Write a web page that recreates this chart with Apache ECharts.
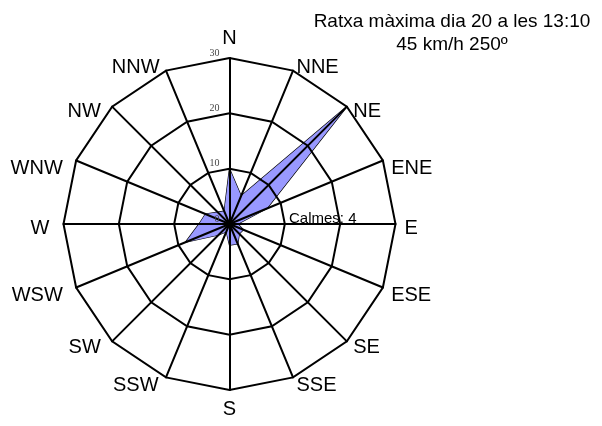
<!DOCTYPE html>
<html>
<head>
<meta charset="utf-8">
<script src="https://cdn.jsdelivr.net/npm/echarts@6/dist/echarts.min.js"></script>
<style>html,body{margin:0;padding:0;background:#fff}#c{width:602px;height:426px}</style>
</head>
<body>
<div id="c"></div>
<script>
// Compass directions (clockwise from North)
const directions = ['N','NNE','NE','ENE','E','ESE','SE','SSE','S','SSW','SW','WSW','W','WNW','NW','NNW'];
// Frequency values per direction
const values = [10, 5.5, 30, 7.3, 1.5, 2.7, 2.5, 3.9, 3.8, 1.5, 2.8, 8.6, 5.5, 4.7, 3.0, 2.5];
const axisMax = 30;
const titleLines = ['Ratxa màxima dia 20 a les 13:10', '45 km/h 250º'];
const calmText = 'Calmes: 4';

// Label nudges (style only): [top padding, right padding] per compass direction
const labelPad = {
  N: [0, 0], NNE: [11, 0], NE: [23, 0], ENE: [22, 0], E: [8, 0], ESE: [10, 0], SE: [0, 0], SSE: [0, 0],
  S: [0, 0], SSW: [0, 4], SW: [0, 5], WSW: [10, 5], W: [8, 5], WNW: [22, 5], NW: [23, 5], NNW: [11, 3]
};

// ECharts radar lays indicators counter-clockwise, so reverse order after N
const order = [0].concat(directions.map((d, i) => i).slice(1).reverse());

const indicator = order.map((i, k) => ({
  name: directions[i],
  max: axisMax,
  min: 0,
  axisLabel: { show: k === 0 }
}));
const data = order.map(i => values[i]);

const FONT = 'Liberation Sans, Arial, sans-serif';
const rich = {};
directions.forEach(d => {
  const p = labelPad[d];
  rich[d] = { fontSize: 20, fontFamily: FONT, color: '#000', padding: [p[0], p[1], 0, 0] };
});

const chart = echarts.init(document.getElementById('c'), null, { renderer: 'canvas' });
chart.setOption({
  animation: false,
  backgroundColor: '#ffffff',
  radar: {
    z: 3,
    center: [229.5, 224],
    radius: 166,
    startAngle: 90,
    shape: 'polygon',
    splitNumber: 3,
    nameGap: 9,
    axisName: {
      color: '#000', fontFamily: FONT, fontSize: 20,
      formatter: function (value) { return '{' + value + '|' + value + '}'; },
      rich: rich
    },
    axisLine: { lineStyle: { color: '#000', width: 2 } },
    splitLine: { lineStyle: { color: '#000', width: 2 } },
    splitArea: { show: false },
    axisTick: { show: false },
    axisLabel: { show: false, color: '#444', fontFamily: 'Liberation Serif, Times New Roman, serif', fontSize: 10, margin: 10, align: 'right', verticalAlign: 'bottom' },
    indicator: indicator
  },
  series: [{
    type: 'radar',
    z: 1,
    symbol: 'none',
    lineStyle: { color: '#000', width: 1.3 },
    areaStyle: { color: '#9999ff', opacity: 1 },
    data: [{ value: data }]
  }],
  graphic: [
    { type: 'text', left: 289, top: 211, z: 10,
      style: { text: calmText, font: '15px "Liberation Sans", Arial', fill: '#000' } },
    { type: 'text', x: 452, y: 10, z: 10,
      style: { text: titleLines.join('\n'), font: '19px "Liberation Sans", Arial', fill: '#000', textAlign: 'center', lineHeight: 23 } }
  ]
});
</script>
</body>
</html>
